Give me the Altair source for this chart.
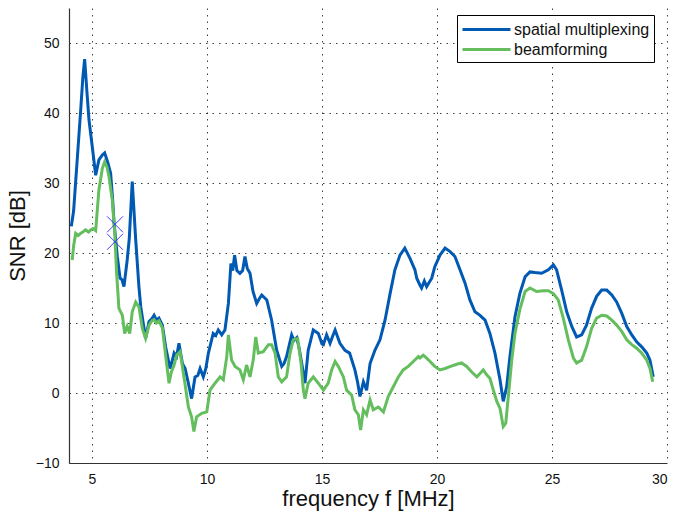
import altair as alt
import pandas as pd

# ---- data ----
sm_freq = [4.1, 4.2, 4.35, 4.5, 4.6, 4.68, 4.78, 4.87, 5.0, 5.16, 5.3, 5.45, 5.55, 5.68, 5.81, 5.9,
           5.96, 6.1, 6.22, 6.3, 6.39, 6.53, 6.62, 6.75, 6.9, 7.04, 7.12, 7.33, 7.48, 7.6, 7.7, 7.8,
           7.91, 8.06, 8.2, 8.3, 8.39, 8.48, 8.57, 8.68, 8.78, 8.93, 9.05, 9.19, 9.33, 9.48, 9.6,
           9.7, 9.84, 9.95, 10.06, 10.27, 10.38, 10.49, 10.64, 10.78, 10.93, 11.04, 11.12, 11.2,
           11.3, 11.43, 11.55, 11.65, 11.75, 11.87, 12.0, 12.16, 12.28, 12.38, 12.6, 12.81, 13.03,
           13.25, 13.35, 13.46, 13.68, 13.78, 13.9, 14.0, 14.12, 14.26, 14.4, 14.62, 14.75, 14.84,
           15.0, 15.06, 15.2, 15.35, 15.45, 15.57, 15.68, 15.78, 16.0, 16.2, 16.43, 16.55, 16.65,
           16.8, 16.94, 17.09, 17.3, 17.52, 17.74, 17.96, 18.17, 18.39, 18.6, 18.83, 19.04, 19.12,
           19.26, 19.33, 19.45, 19.55, 19.77, 19.9, 20.13, 20.35, 20.57, 20.78, 21.0, 21.22, 21.43,
           21.65, 21.87, 22.09, 22.3, 22.52, 22.74, 22.88, 23.03, 23.17, 23.39, 23.6, 23.83, 24.04,
           24.26, 24.55, 24.84, 25.06, 25.2, 25.42, 25.64, 25.86, 26.07, 26.29, 26.5, 26.72, 26.94,
           27.16, 27.38, 27.6, 27.81, 28.03, 28.25, 28.47, 28.68, 28.9, 29.12, 29.26, 29.4]
sm_snr = [23.8, 26.0, 33.0, 40.0, 45.0, 47.7, 43.0, 39.0, 35.5, 31.1, 33.3, 34.0, 34.3, 33.0, 31.4, 27.5,
          24.3, 19.5, 16.4, 16.2, 15.2, 19.0, 22.0, 30.2, 21.9, 15.2, 12.3, 7.8, 10.2, 10.6, 11.1, 10.4,
          10.7, 9.7, 6.6, 5.0, 3.5, 4.5, 5.7, 5.2, 7.1, 4.2, 3.5, 1.4, -0.8, 2.3, 2.5,
          3.5, 2.3, 3.5, 5.7, 8.5, 8.2, 9.0, 8.3, 9.0, 12.8, 18.5, 17.5, 19.7,
          17.5, 17.1, 17.5, 19.5, 17.8, 17.1, 14.5, 12.8, 13.5, 14.0, 13.3, 10.4, 6.1,
          3.8, 4.2, 5.2, 8.3, 7.5, 7.9, 6.5, 4.2, 1.4, 6.1, 9.0, 8.7, 8.5,
          7.0, 6.9, 8.3, 7.1, 8.0, 9.0, 8.0, 7.1, 6.1, 5.7, 3.3, 1.5, -0.5,
          1.6, 0.4, 4.2, 6.1, 7.6, 10.4, 14.2, 17.6, 19.7, 20.7, 19.2, 17.6, 16.4,
          15.4, 15.0, 16.0, 15.2, 16.4, 18.0, 19.7, 20.7, 20.2, 19.5, 17.6, 15.7, 13.3,
          11.6, 11.1, 10.4, 8.5, 5.7, 1.9, -1.2, 0.9, 5.2, 10.9, 14.2, 16.6, 17.3,
          17.2, 17.1, 17.6, 18.3, 17.6, 14.7, 11.6, 9.5, 8.0, 8.3, 9.7, 12.1, 13.8,
          14.7, 14.7, 14.0, 13.0, 11.4, 9.5, 8.3, 7.3, 6.6, 5.7, 4.7, 2.3]

bf_freq = [4.14, 4.2, 4.29, 4.4, 4.5, 4.6, 4.72, 4.85, 4.94, 5.05, 5.16, 5.3, 5.45, 5.55, 5.65, 5.74,
           5.88, 5.99, 6.07, 6.1, 6.17, 6.32, 6.42, 6.53, 6.64, 6.75, 6.9, 7.04, 7.19, 7.33, 7.48,
           7.6, 7.7, 7.8, 7.91, 8.06, 8.2, 8.35, 8.45, 8.57, 8.68, 8.83, 9.04, 9.19, 9.33, 9.43,
           9.55, 9.77, 9.99, 10.13, 10.35, 10.57, 10.71, 10.86, 10.93, 11.07, 11.22, 11.43, 11.58,
           11.72, 11.87, 12.01, 12.12, 12.23, 12.45, 12.67, 12.81, 12.96, 13.1, 13.25, 13.46, 13.61,
           13.75, 13.94, 14.09, 14.19, 14.26, 14.4, 14.62, 14.84, 15.06, 15.27, 15.42, 15.57, 15.71,
           15.93, 16.07, 16.29, 16.43, 16.58, 16.68, 16.8, 16.94, 17.09, 17.23, 17.45, 17.67, 17.88,
           18.1, 18.32, 18.53, 18.75, 18.97, 19.19, 19.26, 19.4, 19.48, 19.7, 19.9, 20.13, 20.35,
           20.59, 20.86, 21.07, 21.29, 21.51, 21.73, 21.87, 22.01, 22.16, 22.3, 22.45, 22.6, 22.74,
           22.88, 22.99, 23.1, 23.25, 23.39, 23.6, 23.83, 24.04, 24.33, 24.62, 24.84, 25.06, 25.27,
           25.49, 25.71, 25.93, 26.07, 26.29, 26.5, 26.72, 26.94, 27.16, 27.38, 27.6, 27.81, 28.03,
           28.25, 28.47, 28.68, 28.9, 29.12, 29.26, 29.38]
bf_snr = [19.0, 21.0, 22.8, 22.5, 22.8, 23.0, 23.3, 23.0, 23.3, 23.5, 23.2, 29.0, 32.1, 33.0, 32.3, 30.9,
          27.6, 22.8, 17.1, 15.7, 12.1, 11.1, 8.5, 9.5, 8.5, 11.6, 13.0, 12.3, 9.2, 7.8, 9.7,
          10.3, 10.5, 10.0, 10.3, 9.3, 5.4, 1.4, 3.0, 4.0, 5.4, 5.9, 1.4, -2.0, -3.4, -5.5,
          -3.4, -2.9, -2.7, 0.4, 1.4, 2.3, 1.9, 5.2, 8.3, 4.7, 3.8, 3.3, 1.9,
          4.0, 2.3, 4.7, 8.0, 5.7, 5.9, 6.9, 6.9, 5.7, 2.3, 1.6, 2.3, 5.7,
          7.6, 7.8, 4.2, 0.4, -0.8, 1.4, 2.3, 1.4, 0.4, 1.4, 3.3, 4.5, 3.8,
          2.3, 0.4, -0.3, -2.4, -3.1, -5.3, -2.4, -3.1, -1.0, -2.4, -2.0, -2.7, -0.5,
          0.9, 2.3, 3.3, 3.8, 4.5, 5.2, 5.0, 5.4, 5.2, 4.5, 3.8, 3.3, 3.5,
          3.8, 4.1, 4.3, 3.8, 3.0, 2.3, 2.8, 3.3, 2.6, 2.1, 0.4, -1.2, -2.2,
          -4.8, -4.3, -0.5, 4.7, 8.5, 11.9, 14.5, 15.0, 14.5, 14.6, 14.6, 14.2, 13.3,
          10.7, 7.6, 5.0, 4.3, 4.7, 6.6, 9.2, 10.7, 11.1, 11.0, 10.4, 9.7, 8.8,
          7.6, 6.9, 6.4, 5.7, 4.7, 3.5, 1.6]

marker_freq = [6.0, 6.0]
marker_snr = [24.1, 21.6]

series_names = ["spatial multiplexing", "beamforming"]
series_colors = ["#0059B3", "#64BE5E"]

df_sm = pd.DataFrame({"f": sm_freq, "snr": sm_snr, "series": series_names[0]})
df_bf = pd.DataFrame({"f": bf_freq, "snr": bf_snr, "series": series_names[1]})
df_mk = pd.DataFrame({"f": marker_freq, "snr": marker_snr})

xscale = alt.Scale(domain=[4, 30], nice=False, zero=False)
yscale = alt.Scale(domain=[-10, 55], nice=False, zero=False)

xaxis = alt.Axis(values=[5, 10, 15, 20, 25, 30], title="frequency f [MHz]", ticks=False,
                 labelPadding=9, titlePadding=2)
yaxis = alt.Axis(values=[-10, 0, 10, 20, 30, 40, 50], title="SNR [dB]", ticks=False,
                 labelPadding=10, titlePadding=6)

color = alt.Color("series:N",
                  scale=alt.Scale(domain=series_names, range=series_colors),
                  legend=alt.Legend(title=None, orient="none", legendX=388, legendY=7,
                                    symbolType="M-1,0L4.33,0", symbolSize=324, symbolStrokeWidth=3,
                                    labelFontSize=16, labelFont="Liberation Sans",
                                    labelColor="#111111", labelOffset=32,
                                    strokeColor="black", fillColor="white",
                                    padding=4, rowPadding=1))

line_sm = alt.Chart(df_sm).mark_line(strokeWidth=3).encode(
    x=alt.X("f:Q", scale=xscale, axis=xaxis),
    y=alt.Y("snr:Q", scale=yscale, axis=yaxis),
    color=color,
)
line_bf = alt.Chart(df_bf).mark_line(strokeWidth=3).encode(
    x=alt.X("f:Q", scale=xscale),
    y=alt.Y("snr:Q", scale=yscale),
    color=color,
)
markers = alt.Chart(df_mk).mark_point(
    shape="M-1,-1L1,1M-1,1L1,-1", filled=False, size=256, stroke="#2a2aff", strokeWidth=1,
    opacity=0.9,
).encode(
    x=alt.X("f:Q", scale=xscale),
    y=alt.Y("snr:Q", scale=yscale),
)

chart = alt.layer(line_sm, line_bf, markers).properties(
    width=598, height=455,
    background="white",
    autosize=alt.AutoSizeParams(type="none"),
    padding={"left": 69, "top": 8, "right": 10, "bottom": 52},
).configure_view(stroke=None).configure_axis(
    labelFont="Liberation Sans", titleFont="Liberation Sans",
    labelFontSize=14, titleFontSize=22, titleFontWeight="normal",
    labelColor="#111111", titleColor="#111111",
    domainColor="#333333", domainWidth=1.2,
    grid=True, gridColor="#000000", gridOpacity=0.75, gridDash=[1.5, 5], gridWidth=1,
)

chart.save("out.html", embed_options={"renderer": "svg", "actions": False})
